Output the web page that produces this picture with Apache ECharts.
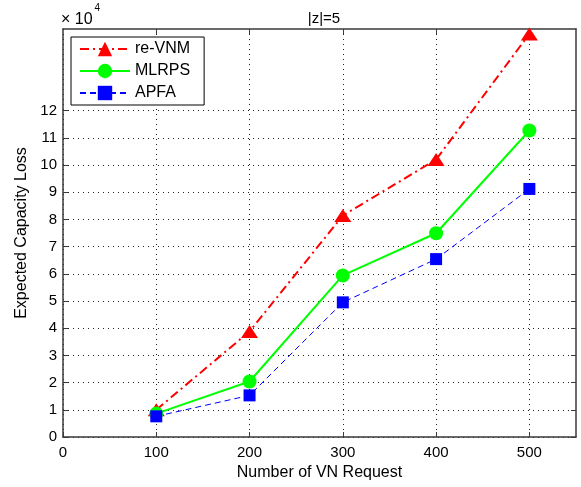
<!DOCTYPE html>
<html>
<head>
<meta charset="utf-8">
<script src="https://cdn.jsdelivr.net/npm/echarts@6/dist/echarts.min.js"></script>
<style>
html,body{margin:0;padding:0;background:#fff;}
#chart{width:581px;height:487px;}
</style>
</head>
<body>
<div id="chart"></div>
<script>
// Data (values in units of 10^4)
const requests = [100, 200, 300, 400, 500];
const reVNM = [1.0, 3.88, 8.14, 10.2, 14.82];
const MLRPS = [0.86, 2.04, 5.94, 7.49, 11.27];
const APFA = [0.76, 1.53, 4.95, 6.54, 9.12];
const xTicks = [0, 100, 200, 300, 400, 500];
const yTicks = [0, 1, 2, 3, 4, 5, 6, 7, 8, 9, 10, 11, 12];
const seriesNames = ['re-VNM', 'MLRPS', 'APFA'];
const titleText = '|z|=5';
const xName = 'Number of VN Request';
const yName = 'Expected Capacity Loss';

const FONT = '"Liberation Sans", Arial, Helvetica, sans-serif';
const AX = '#3a3a3a';

const pairs = (ys) => requests.map((x, i) => [x, ys[i]]);

const chart = echarts.init(document.getElementById('chart'), null, {renderer: 'canvas'});
chart.setOption({
  animation: false,
  backgroundColor: '#fff',
  textStyle: {fontFamily: FONT},
  title: {
    text: titleText,
    left: 319, top: 6,
    textAlign: 'center',
    textStyle: {fontFamily: FONT, fontSize: 15, fontWeight: 'normal', color: '#000'}
  },
  graphic: [{
    type: 'text',
    left: 61, top: 3,
    style: {
      text: '{a|× 10}{b|4}',
      rich: {
        a: {fontFamily: FONT, fontSize: 16, color: '#000', padding: [9, 0, 0, 0]},
        b: {fontFamily: FONT, fontSize: 10, color: '#000', verticalAlign: 'top', padding: [0, 0, 0, 2]}
      }
    }
  }],
  grid: {left: 63, top: 29, right: 5, bottom: 50, containLabel: false},
  legend: {
    orient: 'vertical',
    left: 71, top: 37,
    padding: [4, 14, 4, 8],
    itemGap: 6,
    itemWidth: 50,
    itemHeight: 18,
    backgroundColor: '#fff',
    borderColor: '#000',
    borderWidth: 1,
    borderRadius: 0,
    textStyle: {fontFamily: FONT, fontSize: 16, color: '#000'},
    data: seriesNames
  },
  xAxis: [{
    type: 'value', min: 0, max: 550, interval: 100,
    name: xName, nameLocation: 'middle', nameGap: 28,
    nameTextStyle: {fontFamily: FONT, fontSize: 16, color: '#000'},
    axisLine: {show: true, onZero: false, lineStyle: {color: AX, width: 1.5}},
    axisTick: {show: true, inside: true, length: 5, customValues: xTicks, lineStyle: {color: AX}},
    axisLabel: {customValues: xTicks, margin: 8, fontFamily: FONT, fontSize: 15, color: '#000'},
    splitLine: {show: true, lineStyle: {color: '#222', width: 1, type: [1, 4]}}
  }, {
    type: 'value', min: 0, max: 550, interval: 100, position: 'top',
    axisLine: {show: true, onZero: false, lineStyle: {color: AX, width: 1.5}},
    axisTick: {show: true, inside: true, length: 5, customValues: [100, 200, 300, 400, 500], lineStyle: {color: AX}},
    axisLabel: {show: false},
    splitLine: {show: false}
  }],
  yAxis: [{
    type: 'value', min: 0, max: 15, interval: 1,
    name: yName, nameLocation: 'middle', nameGap: 32, nameRotate: 90,
    nameTextStyle: {fontFamily: FONT, fontSize: 16, color: '#000'},
    axisLine: {show: true, onZero: false, lineStyle: {color: AX, width: 1.5}},
    axisTick: {show: true, inside: true, length: 5, customValues: yTicks, lineStyle: {color: AX}},
    axisLabel: {customValues: yTicks, margin: 6, fontFamily: FONT, fontSize: 15, color: '#000'},
    splitLine: {show: true, lineStyle: {color: '#222', width: 1, type: [1, 4]}}
  }, {
    type: 'value', min: 0, max: 15, interval: 1, position: 'right',
    axisLine: {show: true, onZero: false, lineStyle: {color: AX, width: 1.5}},
    axisTick: {show: true, inside: true, length: 5, customValues: yTicks, lineStyle: {color: AX}},
    axisLabel: {show: false},
    splitLine: {show: false}
  }],
  series: [{
    name: seriesNames[0], type: 'line', data: pairs(reVNM),
    symbol: 'triangle', symbolSize: [17, 13],
    itemStyle: {color: '#ff0000'},
    lineStyle: {color: '#ff0000', width: 2, type: [9, 4, 2, 4]}
  }, {
    name: seriesNames[1], type: 'line', data: pairs(MLRPS),
    symbol: 'circle', symbolSize: 14,
    itemStyle: {color: '#00ff00'},
    lineStyle: {color: '#00ff00', width: 2, type: 'solid'}
  }, {
    name: seriesNames[2], type: 'line', data: pairs(APFA),
    symbol: 'rect', symbolSize: 12,
    itemStyle: {color: '#0000ff'},
    lineStyle: {color: '#0000ff', width: 1, type: [6, 4]}
  }]
});
</script>
</body>
</html>
